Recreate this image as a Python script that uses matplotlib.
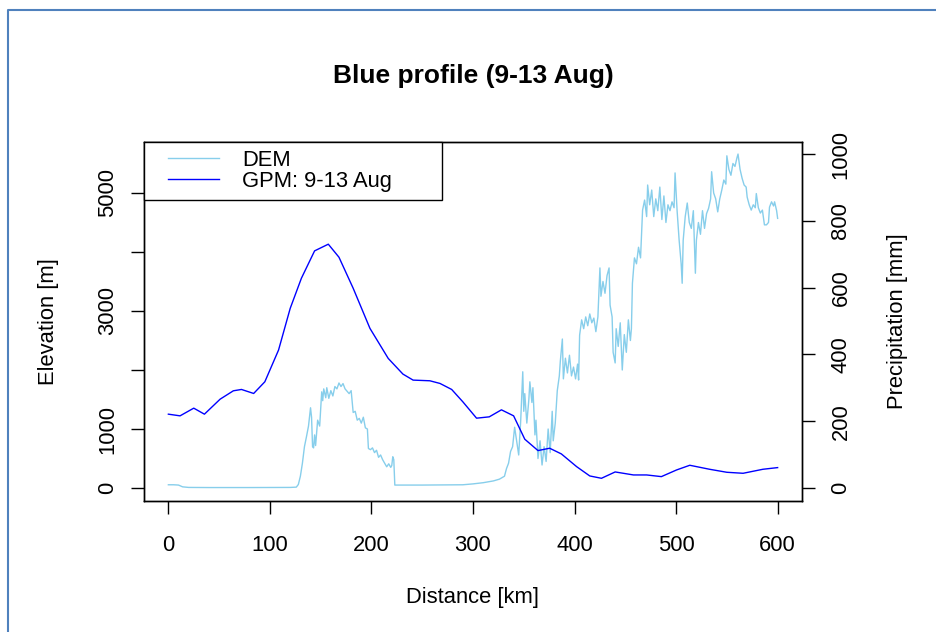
import matplotlib
matplotlib.use('Agg')
import matplotlib.pyplot as plt
from matplotlib.patches import Rectangle
from matplotlib.lines import Line2D

plt.rcParams['font.family'] = ['Liberation Sans', 'DejaVu Sans']

# DEM profile along the transect (distance in km, elevation in m)
dem_km = [0, 5, 10, 14, 20, 40, 80, 120, 126, 128, 130, 132, 134, 136, 138, 140, 141, 142, 143, 144,
          145, 147, 149, 151, 152, 153, 155, 156, 158, 160, 162, 164, 166, 168, 170, 172, 174, 176, 178, 180,
          182, 184, 186, 188, 190, 192, 194, 196, 197, 199, 201, 203, 205, 207, 209, 211, 213, 215, 217, 219,
          220, 221, 222, 223, 250, 290, 300, 310, 320, 326, 331, 333, 335, 337, 339, 341, 343, 345, 347, 349,
          350, 351, 353, 355, 356, 358, 359, 361, 362, 364, 366, 368, 370, 372, 374, 376, 378, 379, 381, 383,
          385, 386, 388, 389, 391, 393, 395, 397, 399, 401, 403, 404, 405, 407, 409, 411, 413, 415, 417, 419,
          421, 423, 425, 426, 428, 430, 432, 434, 435, 437, 438, 440, 441, 443, 445, 447, 449, 451, 453, 455,
          456, 457, 459, 461, 463, 465, 467, 469, 471, 472, 474, 476, 478, 480, 482, 484, 486, 488, 490, 492,
          494, 496, 498, 499, 501, 503, 505, 506, 507, 509, 511, 513, 515, 517, 519, 520, 522, 524, 526, 528,
          530, 532, 534, 535, 537, 539, 541, 543, 545, 547, 549, 550, 552, 554, 556, 558, 560, 561, 563, 565,
          567, 569, 570, 572, 574, 576, 578, 579, 581, 583, 585, 587, 589, 591, 592, 594, 596, 597, 599, 600]
dem_m = [55, 55, 50, 20, 10, 8, 8, 10, 15, 60, 200, 420, 700, 870, 1050, 1360, 1200, 700, 680, 900,
         720, 1150, 1050, 1630, 1480, 1680, 1530, 1700, 1520, 1650, 1560, 1720, 1680, 1780, 1720, 1770, 1680, 1640, 1600, 1650,
         1280, 1300, 1150, 1180, 1100, 1200, 1020, 1000, 670, 650, 680, 600, 640, 520, 560, 480, 420, 360, 410, 350,
         380, 530, 480, 50, 50, 55, 70, 90, 120, 150, 200, 330, 420, 620, 700, 1030, 800, 560, 1150, 1970,
         1300, 1600, 1100, 1500, 1800, 1450, 1700, 900, 1150, 500, 800, 390, 700, 450, 1000, 600, 1300, 800, 1100, 1650,
         1900, 2150, 2525, 1850, 2200, 1950, 2250, 1900, 2050, 1850, 2100, 1830, 2590, 2850, 2700, 2900, 2750, 2950, 2800, 2880,
         2650, 2900, 3730, 3250, 3500, 3300, 3600, 3730, 3100, 2900, 2300, 2120, 2700, 2400, 2800, 2000, 2600, 2300, 2850, 2500,
         2700, 3470, 3900, 3800, 4080, 3900, 4710, 4880, 4600, 5135, 4800, 5050, 4600, 4900, 4700, 5100, 4550, 4950, 4500, 4800,
         4700, 4850, 4750, 5340, 4700, 4200, 3800, 3470, 4200, 4600, 4830, 4500, 4400, 4700, 3640, 4200, 4500, 4300, 4700, 4400,
         4650, 4740, 4900, 5360, 5000, 4900, 4680, 4900, 5050, 5220, 5150, 5630, 5400, 5300, 5500, 5450, 5600, 5660, 5400, 5250,
         5135, 5100, 4930, 4800, 4710, 4800, 4750, 4990, 4750, 4660, 4710, 4460, 4460, 4500, 4760, 4850, 4780, 4850, 4700, 4570]

# GPM precipitation 9-13 Aug (distance in km, precipitation in mm)
gpm_km = [0, 11.5, 25, 35.5, 51, 64, 72, 84, 95, 108.5, 120, 131, 144, 157.5, 168, 182, 198.5, 216.5, 231, 241,
          257.5, 267.5, 279, 290, 303.5, 316, 328, 340, 351, 364, 375.5, 387, 402, 415, 426.5, 440, 458, 471, 485.5, 500.5,
          513.5, 533, 550, 566, 585.5, 600]
gpm_mm = [221, 216, 239, 221, 266, 291, 295, 283, 318, 413, 538, 628, 710, 730, 691, 598, 478, 388, 341, 323,
          321, 313, 295, 258, 209, 213, 234, 216, 146, 112, 119, 102, 64, 36, 29, 48, 39, 39, 34, 54,
          68, 56, 47, 44, 56, 61]

x_ticks = [0, 100, 200, 300, 400, 500, 600]
elev_ticks = [0, 1000, 2000, 3000, 4000, 5000]
elev_labels = ['0', '1000', '', '3000', '', '5000']
prec_ticks = [0, 200, 400, 600, 800, 1000]

W, H = 937, 632
fig = plt.figure(figsize=(W / 100, H / 100), dpi=100)
ax = fig.add_axes([144 / W, 1 - 501 / H, 658 / W, 359 / H])

ax.plot(dem_km, dem_m, color='skyblue', lw=1.0)
ax.set_xlim(-24, 624)
ax.set_ylim(-220, 5864)
ax.set_xticks(x_ticks)
ax.set_yticks(elev_ticks)
ax.set_yticklabels(elev_labels)
ax.tick_params(axis='both', direction='out', length=9.5, width=1.0, labelsize=15.8, colors='black')
ax.tick_params(axis='x', pad=15)
ax.tick_params(axis='y', pad=9, labelrotation=90)
plt.setp(ax.get_yticklabels(), va='center')

ax2 = ax.twinx()
ax2.plot(gpm_km, gpm_mm, color='blue', lw=1.0)
ax2.set_ylim(-39, 1036)
ax2.set_yticks(prec_ticks)
ax2.tick_params(axis='y', direction='out', length=9.5, width=1.0, labelsize=15.8, pad=11, labelrotation=90)
plt.setp(ax2.get_yticklabels(), va='center')

for a in (ax, ax2):
    for s in a.spines.values():
        s.set_linewidth(1.0)

# legend box in the top left corner
frame = Rectangle((0, 1 - 0.1616), 0.4529, 0.1616, transform=ax2.transAxes, facecolor='white',
                  edgecolor='black', lw=1.0, zorder=4, clip_on=False)
ax2.add_patch(frame)
handles = [Line2D([], [], color='skyblue', lw=1.0), Line2D([], [], color='blue', lw=1.0)]
leg = ax2.legend(handles, ['DEM', 'GPM: 9-13 Aug'], loc='center left', bbox_to_anchor=(0.036, 0.919),
                 frameon=False, fontsize=15.8, handlelength=2.32, handletextpad=1.08, labelspacing=0.0,
                 borderpad=0, borderaxespad=0)
leg.set_zorder(5)

fig.text(473 / W, 1 - 76 / H, 'Blue profile (9-13 Aug)', ha='center', va='center', fontsize=19, fontweight='bold')
fig.text(473 / W, 1 - 597 / H, 'Distance [km]', ha='center', va='center', fontsize=15.8)
fig.text(49 / W, 1 - 321.5 / H, 'Elevation [m]', ha='center', va='center', rotation=90, fontsize=15.8)
fig.text(898 / W, 1 - 321.5 / H, 'Precipitation [mm]', ha='center', va='center', rotation=90, fontsize=15.8)

# screenshot border
fig.add_artist(Line2D([8 / W, 8 / W, 1], [0, 1 - 9.5 / H, 1 - 9.5 / H], transform=fig.transFigure,
                      color='#4F81BD', lw=1.5))

fig.savefig('out.png', dpi=100)
